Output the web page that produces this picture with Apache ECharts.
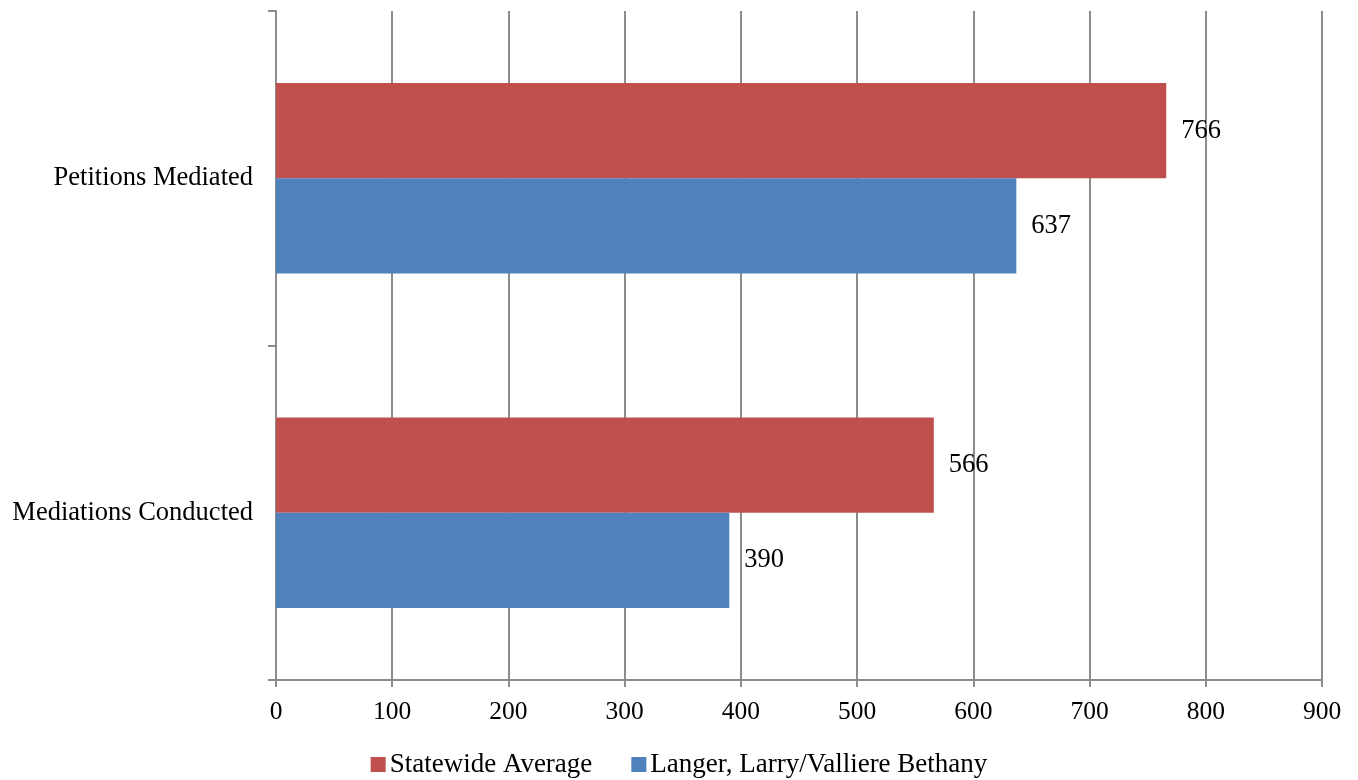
<!DOCTYPE html>
<html><head><meta charset="utf-8">
<script src="https://cdn.jsdelivr.net/npm/echarts@6/dist/echarts.min.js"></script>
<style>html,body{margin:0;padding:0;background:#fff}#c{width:1358px;height:780px}</style>
</head><body><div id="c"></div>
<script>
const categories = ['Mediations Conducted', 'Petitions Mediated'];
const seriesNames = ['Statewide Average', 'Langer, Larry/Valliere Bethany'];
const statewide = [566, 766];
const langer = [390, 637];
const xTicks = [0, 100, 200, 300, 400, 500, 600, 700, 800, 900];

const font = 'Liberation Serif, Times New Roman, serif';
const gridColor = '#8c8c8c';
const chart = echarts.init(document.getElementById('c'));
chart.setOption({
  animation: false,
  textStyle: { fontFamily: font },
  grid: { left: 276, right: 36, top: 11, bottom: 100 },
  legend: {
    top: 751, left: 'center', padding: 0,
    itemWidth: 15, itemHeight: 15, itemGap: 39,
    icon: 'rect',
    textStyle: { fontFamily: font, fontSize: 27, color: '#000', padding: [0, 0, 0, -1] },
    data: seriesNames
  },
  xAxis: {
    type: 'value', min: xTicks[0], max: xTicks[xTicks.length - 1], interval: 100,
    axisLine: { show: true, lineStyle: { color: gridColor, width: 2 } },
    axisTick: { show: true, length: 7, lineStyle: { color: gridColor, width: 2 } },
    splitLine: { show: true, lineStyle: { color: gridColor, width: 2 } },
    axisLabel: { fontFamily: font, fontSize: 25.5, color: '#000', margin: 19 }
  },
  yAxis: {
    type: 'category', data: categories,
    axisLine: { show: true, lineStyle: { color: gridColor, width: 2 } },
    axisTick: { show: true, length: 8, alignWithLabel: false, lineStyle: { color: gridColor, width: 2 } },
    axisLabel: { fontFamily: font, fontSize: 26.5, color: '#000', margin: 23 }
  },
  series: [
    {
      name: seriesNames[0], type: 'bar', data: statewide,
      barGap: 0, barCategoryGap: '43%',
      itemStyle: { color: '#C0504D' },
      label: { show: true, position: 'right', distance: 15, fontFamily: font, fontSize: 26.5, color: '#000' }
    },
    {
      name: seriesNames[1], type: 'bar', data: langer,
      barGap: 0, barCategoryGap: '43%',
      itemStyle: { color: '#4F81BD' },
      label: { show: true, position: 'right', distance: 15, fontFamily: font, fontSize: 26.5, color: '#000' }
    }
  ]
});
</script></body></html>
